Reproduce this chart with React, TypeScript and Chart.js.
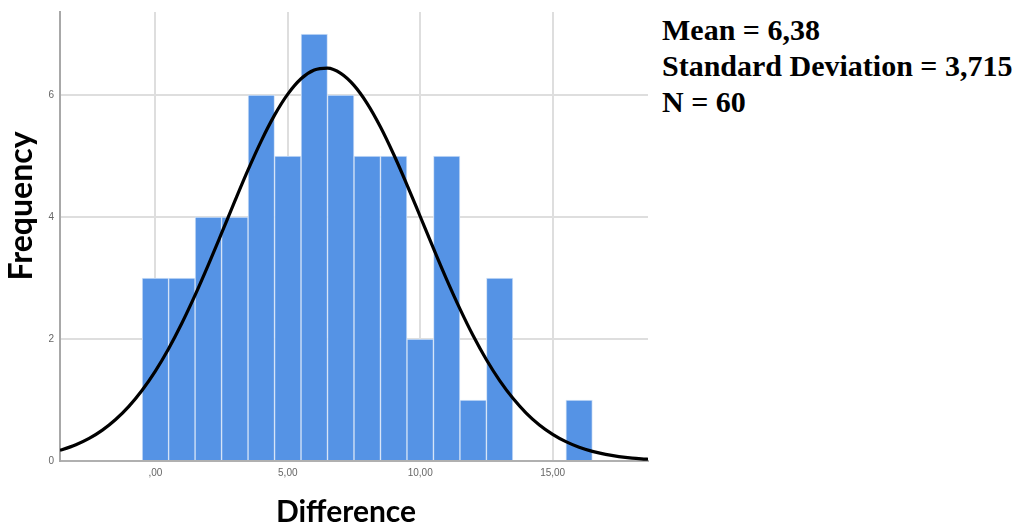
import React, { useEffect, useRef } from "react";
import { Chart, registerables } from "chart.js";

Chart.register(...registerables);

// Histogram bins (bin centres, width 1) and their frequencies
const binCenters = [0, 1, 2, 3, 4, 5, 6, 7, 8, 9, 10, 11, 12, 13, 14, 15, 16];
const frequencies = [3, 3, 4, 4, 6, 5, 7, 6, 5, 5, 2, 5, 1, 3, 0, 0, 1];

// Normal curve
const curveX = [
  -3.6, -3.5, -3, -2.5, -2, -1.5, -1, -0.5, 0, 0.5, 1, 1.5, 2, 2.5, 3, 3.5, 4, 4.5, 5, 5.5, 6, 6.5, 7,
  7.5, 8, 8.5, 9, 9.5, 10, 10.5, 11, 11.5, 12, 12.5, 13, 13.5, 14, 14.5, 15, 15.5, 16, 16.5, 17, 17.5,
  18, 18.5, 18.6,
];
const curveY = [
  0.175, 0.188, 0.266, 0.37, 0.506, 0.68, 0.896, 1.16, 1.474, 1.841, 2.258, 2.719, 3.216, 3.734, 4.259,
  4.771, 5.248, 5.669, 6.013, 6.265, 6.409, 6.44, 6.354, 6.157, 5.859, 5.475, 5.024, 4.528, 4.008, 3.484,
  2.973, 2.493, 2.052, 1.659, 1.317, 1.027, 0.786, 0.591, 0.437, 0.317, 0.225, 0.158, 0.108, 0.073,
  0.048, 0.032, 0.029,
];

const xTickValues = [0, 5, 10, 15];
const xTickLabels = [",00", "5,00", "10,00", "15,00"];
const yTickValues = [0, 2, 4, 6];
const yTickLabels = ["0", "2", "4", "6"];

const xAxisTitle = "Difference";
const yAxisTitle = "Frequency";
const statsLines = ["Mean = 6,38", "Standard Deviation = 3,715", "N = 60"];

export default function App() {
  const canvasRef = useRef<HTMLCanvasElement | null>(null);

  useEffect(() => {
    if (!canvasRef.current) return;
    const barData = binCenters
      .map((x, i) => ({ x, y: frequencies[i] }))
      .filter((p) => p.y > 0);
    const lineData = curveX.map((x, i) => ({ x, y: curveY[i] }));

    const chart = new Chart(canvasRef.current, {
      type: "bar",
      data: {
        datasets: [
          {
            type: "line",
            data: lineData,
            borderColor: "#000000",
            borderWidth: 3.2,
            pointRadius: 0,
            cubicInterpolationMode: "monotone",
            fill: false,
            order: 0,
          } as any,
          {
            type: "bar",
            data: barData,
            backgroundColor: "#5593e5",
            borderColor: "#d2e2f7",
            borderWidth: 1,
            categoryPercentage: 1,
            barPercentage: 1,
            order: 1,
          } as any,
        ],
      },
      options: {
        animation: false,
        responsive: false,
        devicePixelRatio: 1,
        layout: { padding: { top: 12, right: 12, left: 0, bottom: 0 } },
        plugins: { legend: { display: false }, tooltip: { enabled: false } },
        scales: {
          x: {
            type: "linear",
            min: -3.6,
            max: 18.6,
            offset: false,
            grid: { offset: false, color: "#dedede", lineWidth: 2, drawTicks: false },
            border: { display: true, color: "#b0b0b0", width: 2 },
            afterBuildTicks: (scale: any) => {
              scale.ticks = xTickValues.map((v) => ({ value: v }));
            },
            afterFit: (scale: any) => {
              scale.height = 66;
            },
            ticks: {
              autoSkip: false,
              maxRotation: 0,
              padding: 6,
              color: "#666666",
              font: { family: "Liberation Sans", size: 10 },
              callback: (value: any) => xTickLabels[xTickValues.indexOf(Number(value))],
            },
          },
          y: {
            type: "linear",
            min: 0,
            max: 7.36,
            grid: { color: "#dedede", lineWidth: 2, drawTicks: false },
            border: { display: true, color: "#a8a8a8", width: 2 },
            afterBuildTicks: (scale: any) => {
              scale.ticks = yTickValues.map((v) => ({ value: v }));
            },
            afterFit: (scale: any) => {
              scale.width = 60;
            },
            ticks: {
              padding: 6,
              color: "#666666",
              font: { family: "Liberation Sans", size: 10 },
              callback: (value: any) => yTickLabels[yTickValues.indexOf(Number(value))],
            },
          },
        },
      },
    });
    return () => chart.destroy();
  }, []);

  return (
    <div style={{ position: "absolute", left: 0, top: 0, width: 1024, height: 527, background: "#ffffff" }}>
      <canvas ref={canvasRef} width={660} height={527} style={{ position: "absolute", left: 0, top: 0 }} />
      <div
        style={{
          position: "absolute",
          left: -80,
          top: 188,
          width: 200,
          height: 36,
          lineHeight: "36px",
          textAlign: "center",
          transform: "rotate(-90deg)",
          fontFamily: "Lato",
          fontWeight: "bold",
          fontSize: 32,
          color: "#000000",
          whiteSpace: "nowrap",
        }}
      >
        {yAxisTitle}
      </div>
      <div
        style={{
          position: "absolute",
          left: 246,
          top: 492,
          width: 200,
          height: 36,
          lineHeight: "36px",
          textAlign: "center",
          fontFamily: "Lato",
          fontWeight: "bold",
          fontSize: 30,
          color: "#000000",
          whiteSpace: "nowrap",
        }}
      >
        {xAxisTitle}
      </div>
      <div
        style={{
          position: "absolute",
          left: 662,
          top: 12,
          fontFamily: "'Liberation Serif', serif",
          fontWeight: "bold",
          fontSize: 30,
          lineHeight: "36px",
          color: "#000000",
          whiteSpace: "nowrap",
        }}
      >
        {statsLines.map((s) => (
          <div key={s}>{s}</div>
        ))}
      </div>
    </div>
  );
}
